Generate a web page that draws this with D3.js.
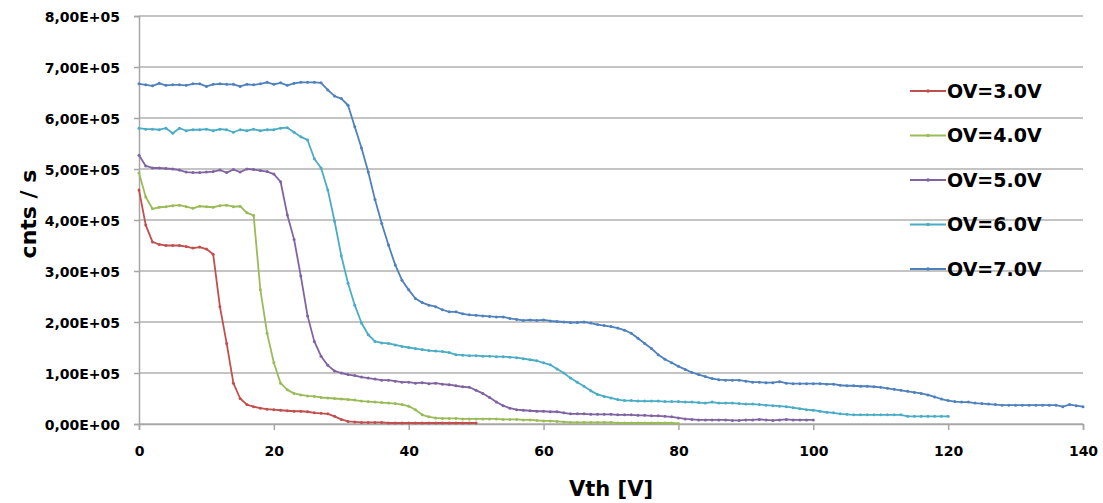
<!DOCTYPE html>
<html>
<head>
<meta charset="utf-8">
<script src="https://cdn.jsdelivr.net/npm/d3@7"></script>
<style>
  body { margin: 0; background: #fff; }
  text { font-family: "DejaVu Sans", sans-serif; font-weight: bold; fill: #000; }
</style>
</head>
<body>
<svg id="chart" width="1103" height="503"></svg>
<script>

// rates in thousands of counts / s, one point per volt starting at Vth = 0
var ov3 = [459,390,357,352,350,350,350,348,345,347,343,333,230,158,80,50,38,34,31,29,
  28,27,26,25,25,24,22,21,20,15,9,5,4,3,3,3,3,2,2,2,2,2,2,2,2,2,2,2,2,2,2];

var ov4 = [492,445,422,425,426,428,429,426,423,427,426,425,428,429,426,427,414,409,263,178,
  120,80,67,60,57,55,54,52,51,50,49,48,47,45,44,43,42,41,40,38,
  35,28,18,14,12,11,11,11,10,10,10,10,10,10,9,9,9,8,8,7,
  6,6,5,4,3,3,3,3,3,3,3,2,2,2,2,2,2,2,2,2,1];

var ov5 = [527,506,502,502,501,500,498,494,493,493,494,495,498,493,499,494,500,499,497,495,
  490,475,410,362,290,212,162,133,115,104,100,97,95,92,90,88,86,86,84,82,
  82,80,81,79,80,78,77,75,73,72,66,60,52,43,36,31,28,27,26,25,
  25,24,24,22,20,20,20,19,19,19,19,18,18,18,17,17,16,16,15,14,
  12,10,9,8,8,8,8,8,7,7,8,8,9,8,7,8,9,8,8,8,8];

var ov6 = [580,578,578,577,580,570,580,575,577,577,578,575,578,577,572,577,575,578,575,577,
  577,580,581,572,563,557,520,502,459,398,330,276,233,198,175,162,159,158,155,152,
  150,148,146,144,143,142,140,136,135,134,134,133,133,132,132,131,130,128,126,124,
  120,116,108,100,90,82,74,65,58,54,51,48,46,46,45,45,45,45,44,44,
  44,43,43,42,41,43,41,41,41,40,39,39,38,37,36,35,34,32,30,28,
  27,25,23,22,20,19,18,18,18,18,18,18,18,18,15,15,15,15,15,15,15];

var ov7 = [667,665,663,668,664,665,665,664,667,667,662,666,667,666,666,662,666,665,667,670,
  666,669,664,668,670,670,670,669,655,643,638,625,583,541,494,440,393,351,312,282,
  263,246,238,233,230,224,220,220,216,214,213,212,211,210,210,207,205,203,204,203,
  204,202,201,200,199,199,200,198,195,193,191,188,184,178,168,158,148,136,127,120,
  113,107,101,97,93,89,87,86,86,86,84,82,82,81,81,83,80,79,79,79,
  79,79,78,78,76,75,75,74,74,73,72,70,68,66,64,62,60,57,53,49,
  46,44,43,43,41,40,39,38,37,37,37,37,37,37,37,37,37,34,38,36,34];

var seriesNames = ["OV=3.0V", "OV=4.0V", "OV=5.0V", "OV=6.0V", "OV=7.0V"];
var seriesColors = ["#c0504d", "#9bbb59", "#8064a2", "#4bacc6", "#4f81bd"];
var xTicks = [0, 20, 40, 60, 80, 100, 120, 140];
var yTicks = [0, 100000, 200000, 300000, 400000, 500000, 600000, 700000, 800000];

var allSeries = [ov3, ov4, ov5, ov6, ov7].map(function(vals, k){
  return {
    name: seriesNames[k],
    color: seriesColors[k],
    points: vals.map(function(v, i){ return {x: i, y: v * 1000}; })
  };
});

var plotLeft = 139, plotRight = 1083, plotTop = 16, plotBottom = 424;

var svg = d3.select("#chart");

var x = d3.scaleLinear().domain([0, 140]).range([plotLeft, plotRight]);
var y = d3.scaleLinear().domain([0, 800000]).range([plotBottom, plotTop]);

function sci(v){
  if (v === 0) return "0,00E+00";
  return (v / 1e5).toFixed(2).replace(".", ",") + "E+05";
}

// horizontal grid lines
svg.append("g").selectAll("line")
  .data(yTicks)
  .enter().append("line")
  .attr("x1", plotLeft).attr("x2", plotRight)
  .attr("y1", function(d){ return y(d); })
  .attr("y2", function(d){ return y(d); })
  .attr("stroke", "#c4c4c4")
  .attr("stroke-width", 2);

// y axis
var yAxis = d3.axisLeft(y).tickValues(yTicks).tickFormat(sci).tickSize(5).tickPadding(14);
var gy = svg.append("g").attr("transform", "translate(" + plotLeft + ",0)").call(yAxis);
gy.select(".domain").attr("stroke", "#a6a6a6").attr("stroke-width", 1.5);
gy.selectAll(".tick line").attr("stroke", "#a6a6a6").attr("stroke-width", 1.5);
gy.selectAll("text").style("font-size", "14px").attr("fill", "#111").attr("dy", "0.4em");

// x axis
var xAxis = d3.axisBottom(x).tickValues(xTicks).tickFormat(d3.format("d")).tickSize(6).tickPadding(16);
var gx = svg.append("g").attr("transform", "translate(0," + plotBottom + ")").call(xAxis);
gx.select(".domain").attr("stroke", "#a6a6a6").attr("stroke-width", 1.5);
gx.selectAll(".tick line").attr("stroke", "#a6a6a6").attr("stroke-width", 1.5);
gx.selectAll("text").style("font-size", "14px").attr("fill", "#111");

// axis titles
svg.append("text")
  .attr("x", (plotLeft + plotRight) / 2).attr("y", 496)
  .attr("text-anchor", "middle")
  .style("font-size", "21px")
  .text("Vth [V]");

svg.append("text")
  .attr("transform", "translate(36,214) rotate(-90)")
  .attr("text-anchor", "middle")
  .style("font-size", "22px")
  .text("cnts / s");

// curves
var line = d3.line()
  .x(function(d){ return x(d.x); })
  .y(function(d){ return y(d.y); });

var groups = svg.append("g").selectAll("g")
  .data(allSeries)
  .enter().append("g");

groups.append("path")
  .attr("d", function(d){ return line(d.points); })
  .attr("fill", "none")
  .attr("stroke", function(d){ return d.color; })
  .attr("stroke-width", 1.8)
  .attr("stroke-linejoin", "round");

groups.selectAll("circle")
  .data(function(d){ return d.points.map(function(p){ return {p: p, c: d.color}; }); })
  .enter().append("circle")
  .attr("cx", function(d){ return x(d.p.x); })
  .attr("cy", function(d){ return y(d.p.y); })
  .attr("r", 1.5)
  .attr("fill", function(d){ return d.c; });

// legend
var legend = svg.append("g").selectAll("g")
  .data(allSeries)
  .enter().append("g")
  .attr("transform", function(d, i){ return "translate(910," + (91 + i * 44.5) + ")"; });

legend.append("line")
  .attr("x1", 0).attr("x2", 36)
  .attr("stroke", function(d){ return d.color; })
  .attr("stroke-width", 1.8);

legend.append("circle")
  .attr("cx", 18).attr("r", 1.8)
  .attr("fill", function(d){ return d.color; });

legend.append("text")
  .attr("x", 37).attr("dy", "0.36em")
  .style("font-size", "19px")
  .text(function(d){ return d.name; });

</script>
</body>
</html>
